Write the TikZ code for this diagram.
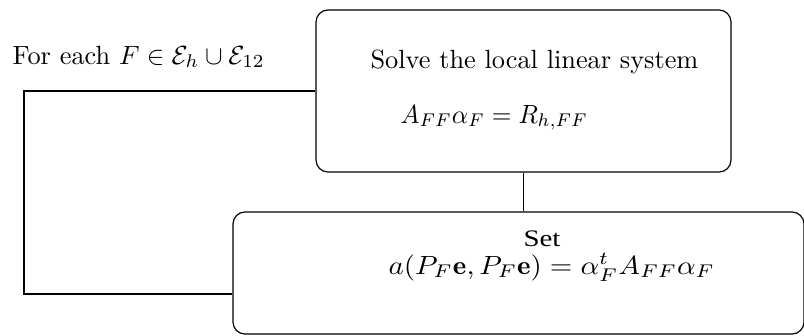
\documentclass[tikz,border=0pt]{standalone}
\usepackage{graphicx}
\usepackage{fontspec}
\usepackage{tikz}
\newfontfamily\timesfont{Liberation Serif}

\begin{document}
\begin{tikzpicture}[x=0.38pt,y=-0.38pt,line width=0.45pt,
    stagebox/.style={draw,rounded corners=4.6pt,inner sep=0pt},
    stagetext/.style={anchor=base west,inner sep=0pt,font=\fontsize{10}{12}\selectfont}]
  \useasboundingbox (0,0) rectangle (804,335);
  \node[stagebox,minimum width=157.7pt,minimum height=61.6pt] (solve) at (523.5,91) {};
  \node[stagebox,minimum width=217pt,minimum height=46.4pt] (setbox) at (518.5,273) {};
  \node[stagetext] (solvetxt) at (370,68) {Solve the local linear system};
  \node[stagetext] (solveeq) at (400,123) {\scalebox{0.96}[1]{$A_{FF}\alpha_F = R_{h,FF}$}};
  \node[stagetext,font=\fontsize{9}{11}\timesfont] (settxt) at (523,246) {\scalebox{1.22}[1]{Set}};
  \node[stagetext] (seteq) at (388,274) {\scalebox{1.1}[1]{$a(P_F\mathbf{e},P_F\mathbf{e}) = \alpha_F^tA_{FF}\alpha_F$}};
  \node[stagetext] (loop) at (12,64) {For each $F\in\mathcal{E}_h\cup\mathcal{E}_{12}$};
  \coordinate (corner) at (24,294);
  \draw (solve.south) -- (solve.south |- setbox.north);
  \draw (solve.west) -| (corner) -- (setbox.west |- corner);
\end{tikzpicture}
\end{document}
